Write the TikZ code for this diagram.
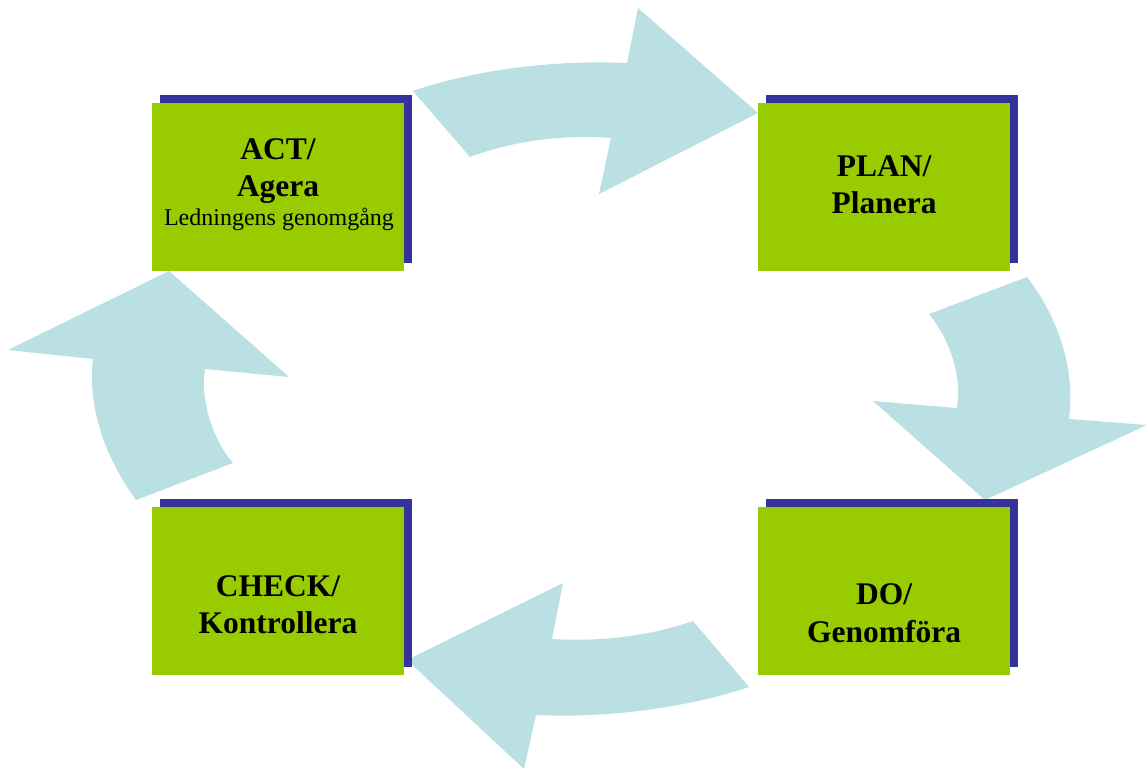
\documentclass[tikz,border=0pt]{standalone}
\usepackage{fontspec}
\setmainfont{Liberation Serif}
\usetikzlibrary{shadows}
\definecolor{boxgreen}{RGB}{153,204,0}
\definecolor{shadowblue}{RGB}{51,51,153}
\definecolor{arrowblue}{RGB}{187,224,227}
\tikzset{
  pdcabox/.style={fill=boxgreen, draw=none, minimum width=252pt, minimum height=168pt, inner sep=0pt,
    general shadow={fill=shadowblue, shadow xshift=8pt, shadow yshift=8pt}},
  bigtxt/.style={anchor=base, inner sep=0pt, font=\fontsize{31.5}{36}\selectfont\bfseries},
  smalltxt/.style={anchor=base, inner sep=0pt, font=\fontsize{24}{28}\selectfont},
  bigarrow/.style={fill=arrowblue, draw=none}
}
\begin{document}
\begin{tikzpicture}[x=1pt,y=-1pt]
\useasboundingbox (0,0) rectangle (1147,770);
% arrows
\fill[bigarrow] (413,91) .. controls (480,68) and (560,60) .. (627,63) -- (638,8) -- (758,113) -- (599,194) -- (611,138) .. controls (560,134) and (510,142) .. (470,157) -- cycle;
\fill[bigarrow] (1027,277) -- (929,314) .. controls (950,340) and (962,375) .. (957,408) -- (873,401) -- (985,500) -- (1147,425) -- (1069,419) .. controls (1075,370) and (1060,320) .. (1027,277) -- cycle;
\fill[bigarrow] (749,687) .. controls (680,710) and (600,718) .. (536,715) -- (524,769) -- (407,660) -- (563,583) -- (552,639) .. controls (600,642) and (650,636) .. (693,621) -- cycle;
\fill[bigarrow] (136,500) -- (233,463) .. controls (213,440) and (200,400) .. (205,369) -- (289,377) -- (169,271) -- (8,350) -- (93,359) .. controls (88,400) and (100,450) .. (136,500) -- cycle;
% boxes
\node[pdcabox] (act) at (278,187) {};
\node[pdcabox] (plan) at (884,187) {};
\node[pdcabox] (check) at (278,590.5) {};
\node[pdcabox] (do) at (884,590.5) {};
% texts
\node[bigtxt] (act1) at (278,160) {ACT/};
\node[bigtxt] (act2) at (278,196) {Agera};
\node[smalltxt] (act3) at (279,225) {Ledningens genomgång};
\node[bigtxt] (plan1) at (884,176) {PLAN/};
\node[bigtxt] (plan2) at (884,213) {Planera};
\node[bigtxt] (check1) at (278,596) {CHECK/};
\node[bigtxt] (check2) at (278,633) {Kontrollera};
\node[bigtxt] (do1) at (884,604) {DO/};
\node[bigtxt] (do2) at (884,642) {Genomföra};
\end{tikzpicture}
\end{document}
